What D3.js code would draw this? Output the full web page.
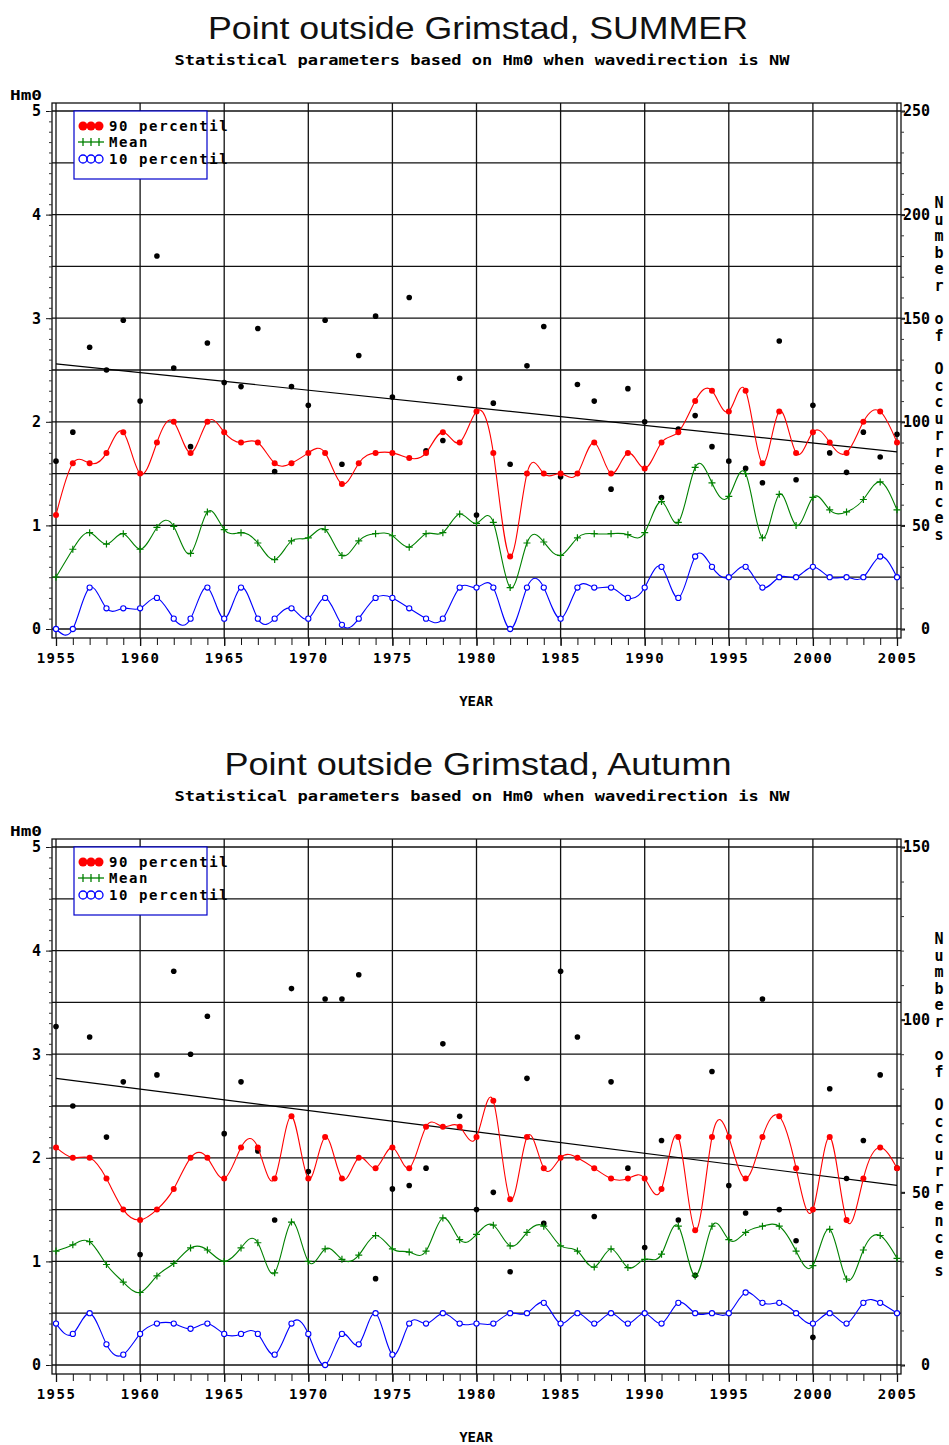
<!DOCTYPE html>
<html><head><meta charset="utf-8">
<script src="https://cdn.jsdelivr.net/npm/d3@7"></script>
<style>
html,body{margin:0;padding:0;background:#fff;}
svg{display:block;}
</style></head>
<body>
<svg id="chart" width="949" height="1445"></svg>
<script>
// ---------- DATA ----------
const years = [1955,1956,1957,1958,1959,1960,1961,1962,1963,1964,1965,1966,1967,1968,1969,1970,
  1971,1972,1973,1974,1975,1976,1977,1978,1979,1980,1981,1982,1983,1984,1985,1986,1987,1988,
  1989,1990,1991,1992,1993,1994,1995,1996,1997,1998,1999,2000,2001,2002,2003,2004,2005];
const xTicks = [1955,1960,1965,1970,1975,1980,1985,1990,1995,2000,2005];
const hm0Ticks = [0,1,2,3,4,5];

// SUMMER
const summerP90 = [1.1,1.6,1.6,1.7,1.9,1.5,1.8,2.0,1.7,2.0,1.9,1.8,1.8,1.6,1.6,1.7,
  1.7,1.4,1.6,1.7,1.7,1.65,1.7,1.9,1.8,2.1,1.7,0.7,1.5,1.5,1.5,1.5,1.8,1.5,
  1.7,1.55,1.8,1.9,2.2,2.3,2.1,2.3,1.6,2.1,1.7,1.9,1.8,1.7,2.0,2.1,1.8];
const summerMean = [0.5,0.77,0.93,0.82,0.92,0.77,0.98,0.99,0.73,1.13,0.96,0.93,0.83,0.67,0.85,0.88,
  0.96,0.71,0.85,0.92,0.9,0.79,0.92,0.93,1.11,1.02,1.03,0.4,0.83,0.84,0.71,0.88,0.92,0.92,
  0.91,0.93,1.23,1.03,1.56,1.41,1.28,1.5,0.88,1.3,1.0,1.27,1.15,1.13,1.25,1.42,1.15];
const summerP10 = [0,0,0.4,0.2,0.2,0.2,0.3,0.1,0.1,0.4,0.1,0.4,0.1,0.1,0.2,0.1,
  0.3,0.04,0.1,0.3,0.3,0.2,0.1,0.1,0.4,0.4,0.4,0,0.4,0.4,0.1,0.4,0.4,0.4,
  0.3,0.4,0.6,0.3,0.7,0.6,0.5,0.6,0.4,0.5,0.5,0.6,0.5,0.5,0.5,0.7,0.5];
const summerCount = [81,95,136,125,149,110,180,126,88,138,119,117,145,76,117,108,
  149,79.5,132,151,112,160,86,91,121,55,109,79.5,127,146,73.5,118,110,67.5,
  116,100,63.5,96.5,103,88,81,77.5,70.6,139,72,108,85,75.6,95,83,94];
const summerTrend = [128, 85.5];        // occurrences at 1955 and 2005
const summerCountTicks = [0,50,100,150,200,250];

// AUTUMN
const autumnP90 = [2.1,2.0,2.0,1.8,1.5,1.4,1.5,1.7,2.0,2.0,1.8,2.1,2.1,1.8,2.4,1.8,
  2.2,1.8,2.0,1.9,2.1,1.9,2.3,2.3,2.3,2.2,2.55,1.6,2.2,1.9,2.0,2.0,1.9,1.8,
  1.8,1.8,1.7,2.2,1.3,2.2,2.2,1.8,2.2,2.4,1.9,1.5,2.2,1.4,1.8,2.1,1.9];
const autumnMean = [1.1,1.16,1.19,0.97,0.8,0.7,0.86,0.98,1.13,1.11,1.0,1.13,1.18,0.89,1.38,1.0,
  1.12,1.02,1.06,1.25,1.12,1.09,1.1,1.42,1.21,1.26,1.35,1.15,1.28,1.34,1.15,1.1,0.945,1.12,
  0.94,1.02,1.07,1.34,0.86,1.34,1.21,1.28,1.34,1.34,1.1,0.96,1.31,0.83,1.11,1.25,1.03];
const autumnP10 = [0.4,0.3,0.5,0.2,0.1,0.3,0.4,0.4,0.35,0.4,0.3,0.3,0.3,0.1,0.4,0.3,
  0.0,0.3,0.2,0.5,0.1,0.4,0.4,0.5,0.4,0.4,0.4,0.5,0.5,0.6,0.4,0.5,0.4,0.5,
  0.4,0.5,0.4,0.6,0.5,0.5,0.5,0.7,0.6,0.6,0.5,0.4,0.5,0.4,0.6,0.6,0.5];
const autumnCount = [98,75,95,66,82,32,84,114,90,101,67,82,62,42,109,56,
  106,106,113,25,51,52,57,93,72,45,50,27,83,41,114,95,43,82,
  57,34,65,42,26,85,52,44,106,45,36,8,80,54,65,84,57];
const autumnTrend = [83, 52];
const autumnCountTicks = [0,50,100,150];

const legendLabels = ["90 percentil", "Mean", "10 percentil"];
const rightLabel = "Number of Occurrences";

// ---------- DRAW ----------
const svg = d3.select("#chart");
const MONO = "'DejaVu Sans Mono', 'Liberation Mono', monospace";
const SANS = "'Liberation Sans', Arial, sans-serif";

function drawChart(oy, cfg) {
  const g = svg.append("g").attr("transform", `translate(0,${oy})`);
  const x = d3.scaleLinear().domain([1955, 2005]).range([56, 897]);
  const y = d3.scaleLinear().domain([0, 5]).range([629, 111]);
  const yR = d3.scaleLinear().domain([0, cfg.countMax]).range([629, 111]);

  // titles
  g.append("text").attr("x", 478).attr("y", 39).attr("text-anchor", "middle")
    .attr("font-family", SANS).attr("font-size", 32).attr("fill", "#111")
    .attr("textLength", cfg.titleLen).attr("lengthAdjust", "spacingAndGlyphs")
    .text(cfg.title);
  g.append("text").attr("x", 482).attr("y", 65).attr("text-anchor", "middle")
    .attr("font-family", MONO).attr("font-weight", "bold").attr("font-size", 14).attr("fill", "#000")
    .attr("textLength", 615).attr("lengthAdjust", "spacingAndGlyphs")
    .text("Statistical parameters based on Hm0 when wavedirection is NW");

  // horizontal grid (every 0.5)
  const hg = d3.range(0, 5.01, 0.5);
  g.selectAll(".hg").data(hg).enter().append("line")
    .attr("x1", 52).attr("x2", 901).attr("y1", d => y(d)).attr("y2", d => y(d))
    .attr("stroke", "#111").attr("stroke-width", 1.3);
  // vertical grid
  g.selectAll(".vg").data(xTicks).enter().append("line")
    .attr("x1", d => x(d)).attr("x2", d => x(d)).attr("y1", 103).attr("y2", 638)
    .attr("stroke", "#111").attr("stroke-width", 1.3);
  // frame
  g.append("rect").attr("x", 52).attr("y", 103).attr("width", 849).attr("height", 535)
    .attr("fill", "none").attr("stroke", "#111").attr("stroke-width", 1.3);

  // left axis
  const leftAxis = d3.axisLeft(y).tickValues(hm0Ticks).tickSize(6).tickFormat(d3.format("d"));
  const la = g.append("g").attr("transform", "translate(52,0)").call(leftAxis);
  la.select(".domain").remove();
  la.selectAll("text").attr("font-family", MONO).attr("font-weight", "bold").attr("font-size", 15).attr("fill", "#000").attr("dx", -2);
  la.selectAll("line").attr("stroke", "#111");
  const leftMinor = d3.axisLeft(y).tickValues(d3.range(0, 5.001, 0.1)).tickSize(3).tickFormat("");
  const lm = g.append("g").attr("transform", "translate(52,0)").call(leftMinor);
  lm.select(".domain").remove();
  lm.selectAll("line").attr("stroke", "#333");

  // right axis
  const rightAxis = d3.axisRight(yR).tickValues(cfg.countTicks).tickSize(4).tickFormat(d3.format("d"));
  const ra = g.append("g").attr("transform", "translate(901,0)").call(rightAxis);
  ra.select(".domain").remove();
  ra.selectAll("line").attr("stroke", "#111").attr("stroke-width", 2);
  ra.selectAll("text").attr("font-family", MONO).attr("font-weight", "bold").attr("font-size", 15)
    .attr("fill", "#000").attr("text-anchor", "end").attr("x", 29);
  const rightMinor = d3.axisRight(yR).tickValues(d3.range(0, cfg.countMax + 0.1, 10)).tickSize(3).tickFormat("");
  const rm = g.append("g").attr("transform", "translate(901,0)").call(rightMinor);
  rm.select(".domain").remove();
  rm.selectAll("line").attr("stroke", "#333");

  // bottom axis
  const botAxis = d3.axisBottom(x).tickValues(xTicks).tickSize(8).tickFormat(d3.format("d"));
  const ba = g.append("g").attr("transform", "translate(0,638)").call(botAxis);
  ba.select(".domain").remove();
  ba.selectAll("line").attr("stroke", "#111").attr("stroke-width", 1.3);
  ba.selectAll("text").attr("font-family", MONO).attr("font-weight", "bold").attr("font-size", 14)
    .attr("fill", "#000").attr("dy", 14).attr("letter-spacing", 1.5);
  const botMinor = d3.axisBottom(x).tickValues(years).tickSize(7).tickFormat("");
  const bm = g.append("g").attr("transform", "translate(0,638)").call(botMinor);
  bm.select(".domain").remove();
  bm.selectAll("line").attr("stroke", "#111");

  // axis titles
  g.append("text").attr("x", 10).attr("y", 100)
    .attr("font-family", MONO).attr("font-weight", "bold").attr("font-size", 14)
    .attr("textLength", 32).attr("lengthAdjust", "spacingAndGlyphs").text("Hm0");
  g.append("text").attr("x", 476).attr("y", 706).attr("text-anchor", "middle")
    .attr("font-family", MONO).attr("font-weight", "bold").attr("font-size", 14).text("YEAR");
  const chars = rightLabel.split("");
  g.selectAll(".rl").data(chars).enter().append("text")
    .attr("x", 939).attr("y", (d, i) => 208 + i * 16.6).attr("text-anchor", "middle")
    .attr("font-family", MONO).attr("font-weight", "bold").attr("font-size", 15).text(d => d === " " ? "" : d);

  // trend line (occurrences)
  g.append("line")
    .attr("x1", x(1955)).attr("y1", yR(cfg.trend[0]))
    .attr("x2", x(2005)).attr("y2", yR(cfg.trend[1]))
    .attr("stroke", "#000").attr("stroke-width", 1.2);

  // occurrence points
  g.selectAll(".cnt").data(cfg.count).enter().append("circle")
    .attr("cx", (d, i) => x(years[i])).attr("cy", d => yR(d)).attr("r", 2.8).attr("fill", "#000");

  const curve = d3.curveNatural;
  const series = [
    {vals: cfg.p90, color: "#ff0000", sym: "dot"},
    {vals: cfg.mean, color: "#008000", sym: "plus"},
    {vals: cfg.p10, color: "#0000ff", sym: "ring"}
  ];
  series.forEach(s => {
    const line = d3.line().x((d, i) => x(years[i])).y(d => y(d)).curve(curve);
    g.append("path").attr("d", line(s.vals)).attr("fill", "none").attr("stroke", s.color).attr("stroke-width", 1.1);
    const pts = g.append("g");
    s.vals.forEach((v, i) => {
      const cx = x(years[i]), cy = y(v);
      if (s.sym === "dot") pts.append("circle").attr("cx", cx).attr("cy", cy).attr("r", 3).attr("fill", s.color);
      else if (s.sym === "ring") pts.append("circle").attr("cx", cx).attr("cy", cy).attr("r", 2.6)
        .attr("fill", "#fff").attr("stroke", s.color).attr("stroke-width", 1.1);
      else pts.append("path").attr("d", `M${cx-3.5},${cy}H${cx+3.5}M${cx},${cy-3.5}V${cy+3.5}`)
        .attr("stroke", s.color).attr("stroke-width", 1.2);
    });
  });

  // legend
  const lg = g.append("g");
  lg.append("rect").attr("x", 74).attr("y", 111).attr("width", 133).attr("height", 68)
    .attr("fill", "#fff").attr("stroke", "#0000cc").attr("stroke-width", 1.2);
  const ly = [127, 143, 160];
  series.forEach((s, k) => {
    const yy = ly[k];
    [83, 91, 99].forEach(cx => {
      if (s.sym === "dot") lg.append("circle").attr("cx", cx).attr("cy", yy - 1).attr("r", 4.5).attr("fill", s.color);
      else if (s.sym === "ring") lg.append("circle").attr("cx", cx).attr("cy", yy - 1).attr("r", 4)
        .attr("fill", "none").attr("stroke", s.color).attr("stroke-width", 1.3);
      else lg.append("path").attr("d", `M${cx},${yy-5}V${yy+3}`).attr("stroke", s.color).attr("stroke-width", 1.3);
    });
    if (s.sym === "plus") lg.append("line").attr("x1", 78).attr("x2", 104).attr("y1", yy - 1).attr("y2", yy - 1)
      .attr("stroke", s.color).attr("stroke-width", 1.3);
    lg.append("text").attr("x", 109).attr("y", yy + 4).attr("font-family", MONO).attr("font-weight", "bold")
      .attr("font-size", 14).attr("letter-spacing", 1.6).attr("fill", "#000").text(legendLabels[k]);
  });
}

drawChart(0, {title: "Point outside Grimstad, SUMMER", titleLen: 540, countMax: 250, countTicks: summerCountTicks,
  p90: summerP90, mean: summerMean, p10: summerP10, count: summerCount, trend: summerTrend});
drawChart(736, {title: "Point outside Grimstad, Autumn", titleLen: 507, countMax: 150, countTicks: autumnCountTicks,
  p90: autumnP90, mean: autumnMean, p10: autumnP10, count: autumnCount, trend: autumnTrend});
</script>
</body></html>
